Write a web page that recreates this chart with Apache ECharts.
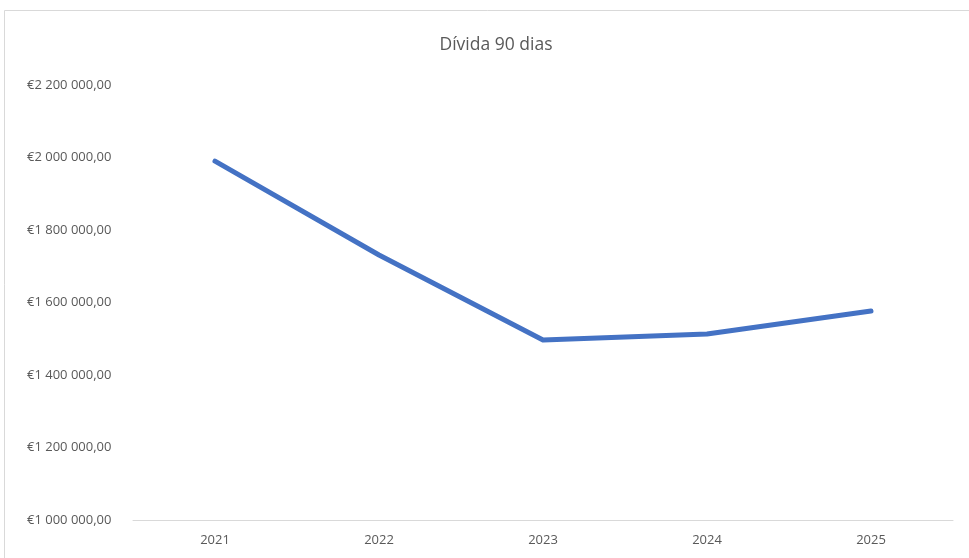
<!DOCTYPE html>
<html>
<head>
<meta charset="utf-8">
<script src="https://cdn.jsdelivr.net/npm/echarts@6/dist/echarts.min.js"></script>
<style>
html,body{margin:0;padding:0;background:#fff;}
#c{width:969px;height:558px;}
</style>
</head>
<body>
<div id="c"></div>
<script>
const categories = ['2021', '2022', '2023', '2024', '2025'];
const values = [1990000, 1731000, 1496500, 1513000, 1576500];
const yMin = 1000000, yMax = 2200000, yStep = 200000;

function fmt(v) {
  const s = Math.round(v).toString().replace(/\B(?=(\d{3})+(?!\d))/g, ' ');
  return '€' + s + ',00';
}

const chart = echarts.init(document.getElementById('c'));
const font = '"Open Sans", "Noto Sans", sans-serif';
chart.setOption({
  animation: false,
  backgroundColor: '#fff',
  title: {
    text: 'Dívida 90 dias',
    left: 491,
    textAlign: 'center',
    top: 31,
    textStyle: { fontFamily: font, fontSize: 17.5, fontWeight: 'normal', color: '#595959' }
  },
  graphic: [{
    type: 'rect',
    shape: { x: 4.5, y: 10.5, width: 1000, height: 600 },
    style: { fill: 'none', stroke: '#d9d9d9', lineWidth: 1 },
    silent: true
  }],
  grid: { left: 133, right: 16, top: 85, bottom: 38 },
  xAxis: {
    type: 'category',
    data: categories,
    boundaryGap: true,
    axisLine: { lineStyle: { color: '#d9d9d9', width: 1 } },
    axisTick: { show: false },
    axisLabel: { fontFamily: font, fontSize: 13, color: '#595959', margin: 14 }
  },
  yAxis: {
    type: 'value',
    min: yMin, max: yMax, interval: yStep,
    axisLine: { show: false },
    axisTick: { show: false },
    splitLine: { show: false },
    axisLabel: { fontFamily: font, fontSize: 13, color: '#595959', align: 'left', margin: 106, formatter: fmt, padding: [3, 0, 0, 0] }
  },
  series: [{
    type: 'line',
    data: values,
    symbol: 'none',
    lineStyle: { color: '#4472C4', width: 5, cap: 'round', join: 'round' },
    smooth: false
  }]
});
</script>
</body>
</html>
